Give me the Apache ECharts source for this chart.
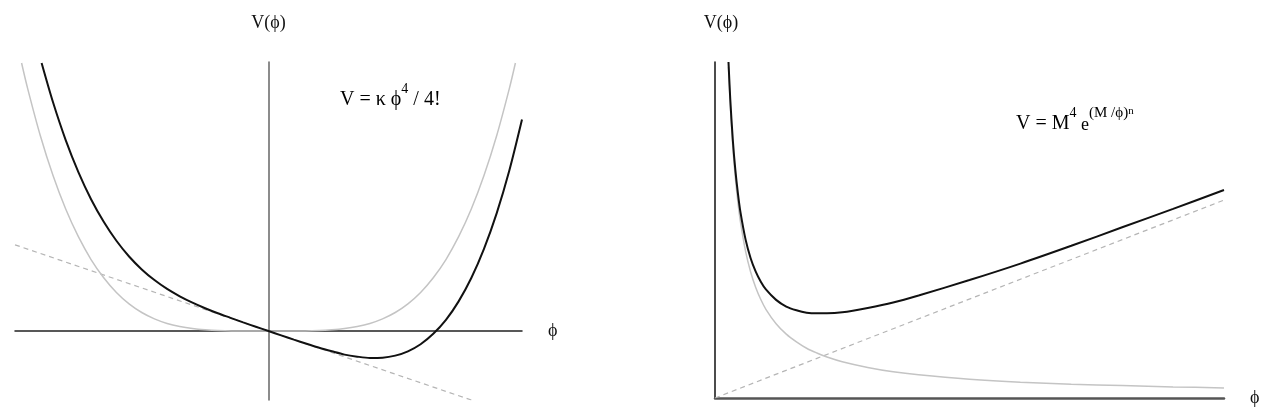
<!DOCTYPE html>
<html>
<head>
<meta charset="utf-8">
<script src="https://cdn.jsdelivr.net/npm/echarts@6/dist/echarts.min.js"></script>
<style>
  html, body { margin: 0; padding: 0; background: #fff; }
  #chart { width: 1270px; height: 417px; }
</style>
</head>
<body>
<div id="chart"></div>
<script>
// left panel: V = k phi^4 / 4!  (grey), tilted version (black), tangent (dashed)
let grayLeftPhi = [-0.974, -0.95, -0.9, -0.85, -0.8, -0.75, -0.7, -0.65, -0.6, -0.55, -0.5, -0.45, -0.4, -0.35, -0.3, -0.25, -0.2, -0.1, 0,
  0.1, 0.2, 0.25, 0.3, 0.35, 0.4, 0.45, 0.5, 0.55, 0.6, 0.65, 0.7, 0.75, 0.8, 0.85, 0.9, 0.95, 0.974];
let grayLeftV = [1.057, 0.956, 0.770, 0.613, 0.481, 0.372, 0.282, 0.210, 0.152, 0.107, 0.073, 0.048, 0.030, 0.018, 0.010, 0.005, 0.002, 0.000, 0,
  0.000, 0.002, 0.005, 0.010, 0.018, 0.030, 0.048, 0.073, 0.107, 0.152, 0.210, 0.282, 0.372, 0.481, 0.613, 0.770, 0.956, 1.057];

let blackLeftPhi = [-0.895, -0.85, -0.8, -0.75, -0.7, -0.65, -0.6, -0.55, -0.5, -0.45, -0.4, -0.35, -0.3, -0.25, -0.2, -0.15, -0.1, -0.05, 0,
  0.05, 0.1, 0.15, 0.2, 0.25, 0.3, 0.35, 0.4, 0.45, 0.5, 0.55, 0.6, 0.65, 0.7, 0.75, 0.8, 0.85, 0.9, 0.95, 1.0];
let blackLeftV = [1.057, 0.902, 0.753, 0.627, 0.520, 0.431, 0.356, 0.294, 0.243, 0.201, 0.166, 0.137, 0.112, 0.090, 0.070, 0.052, 0.034, 0.017, 0,
  -0.017, -0.034, -0.050, -0.066, -0.080, -0.093, -0.101, -0.106, -0.105, -0.097, -0.080, -0.052, -0.011, 0.044, 0.117, 0.209, 0.324, 0.464, 0.633, 0.834];

let dashLeftPhi = [-1, 0.8];
let dashLeftV = [0.34, -0.272];

// right panel: V = M^4 e^(M/phi)^n
let rightPhi = [0.0265, 0.03, 0.035, 0.04, 0.045, 0.05, 0.06, 0.07, 0.08, 0.09, 0.1, 0.12, 0.14, 0.16, 0.18, 0.2, 0.22, 0.25, 0.3, 0.35, 0.4, 0.5, 0.6, 0.7, 0.8, 0.9, 1.0];
let grayRightV = [0.985, 0.871, 0.747, 0.654, 0.582, 0.524, 0.437, 0.375, 0.329, 0.293, 0.264, 0.221, 0.190, 0.167, 0.148, 0.134, 0.122, 0.108, 0.091, 0.078, 0.069, 0.056, 0.047, 0.041, 0.037, 0.033, 0.030];
let blackRightV = [1.0, 0.889, 0.768, 0.678, 0.609, 0.553, 0.472, 0.416, 0.376, 0.346, 0.323, 0.292, 0.272, 0.261, 0.254, 0.252, 0.252, 0.255, 0.268, 0.284, 0.305, 0.351, 0.400, 0.453, 0.508, 0.563, 0.619];

let dashRightPhi = [0, 1];
let dashRightV = [0, 0.589];

let serif = "'Liberation Serif', 'DejaVu Serif', serif";

function pairs(xs, ys) {
  let out = [];
  for (let i = 0; i < xs.length; i++) {
    out.push([xs[i], ys[i]]);
  }
  return out;
}

function axisX(idx, min, max, color, width) {
  return {
    type: 'value', gridIndex: idx, min: min, max: max,
    name: 'ϕ', nameLocation: 'end', nameGap: 26,
    nameTextStyle: { fontFamily: serif, fontSize: 18, color: '#111' },
    axisLine: { onZero: true, lineStyle: { color: color, width: width } },
    axisTick: { show: false }, axisLabel: { show: false }, splitLine: { show: false }
  };
}

function axisY(idx, min, max, color, width, pad) {
  return {
    type: 'value', gridIndex: idx, min: min, max: max,
    name: 'V(ϕ)', nameLocation: 'end', nameGap: 30,
    nameTextStyle: { fontFamily: serif, fontSize: 18, color: '#111', padding: [0, 0, 0, pad] },
    axisLine: { onZero: true, lineStyle: { color: color, width: width } },
    axisTick: { show: false }, axisLabel: { show: false }, splitLine: { show: false }
  };
}

function curve(idx, data, color, width, dashed) {
  return {
    type: 'line', xAxisIndex: idx, yAxisIndex: idx,
    data: data, showSymbol: false, smooth: dashed ? false : 0.3,
    lineStyle: { color: color, width: width, type: dashed ? [5, 4] : 'solid' }
  };
}

let richText = {
  m: { fontFamily: serif, fontSize: 20, lineHeight: 28, verticalAlign: 'bottom', color: '#111' },
  e: { fontFamily: serif, fontSize: 18, lineHeight: 28, verticalAlign: 'bottom', color: '#111' },
  s: { fontFamily: serif, fontSize: 14, lineHeight: 18, verticalAlign: 'top', color: '#111' },
  s2: { fontFamily: serif, fontSize: 15, lineHeight: 19, verticalAlign: 'top', color: '#111' },
  t: { fontFamily: serif, fontSize: 11, lineHeight: 8, verticalAlign: 'top', color: '#111' }
};

window.onload = function () {
  let chart = echarts.init(document.getElementById('chart'));
  let option = {
    animation: false,
    backgroundColor: '#fff',
    grid: [
      { left: 15, top: 62, width: 507, height: 338 },
      { left: 715, top: 62, width: 509, height: 336 }
    ],
    xAxis: [
      axisX(0, -1, 1, '#222', 1.5),
      axisX(1, 0, 1, '#555', 2.5)
    ],
    yAxis: [
      axisY(0, -0.272, 1.061, '#666', 1.5, 0),
      axisY(1, 0, 1, '#111', 1.5, 12)
    ],
    series: [
      curve(0, pairs(dashLeftPhi, dashLeftV), '#b5b5b5', 1.2, true),
      curve(0, pairs(grayLeftPhi, grayLeftV), '#c4c4c4', 1.5, false),
      curve(0, pairs(blackLeftPhi, blackLeftV), '#111', 2, false),
      curve(1, pairs(dashRightPhi, dashRightV), '#b5b5b5', 1.2, true),
      curve(1, pairs(rightPhi, grayRightV), '#c4c4c4', 1.5, false),
      curve(1, pairs(rightPhi, blackRightV), '#111', 2, false)
    ],
    graphic: [
      {
        type: 'text', left: 340, top: 82,
        style: { text: '{m|V = κ ϕ}{s|4}{m| / 4!}', rich: richText }
      },
      {
        type: 'text', left: 1016, top: 106,
        style: { text: '{m|V = M}{s|4}{e| e}{s2|(M /ϕ)}{t|n}', rich: richText }
      }
    ]
  };
  chart.setOption(option);
};
</script>
</body>
</html>
